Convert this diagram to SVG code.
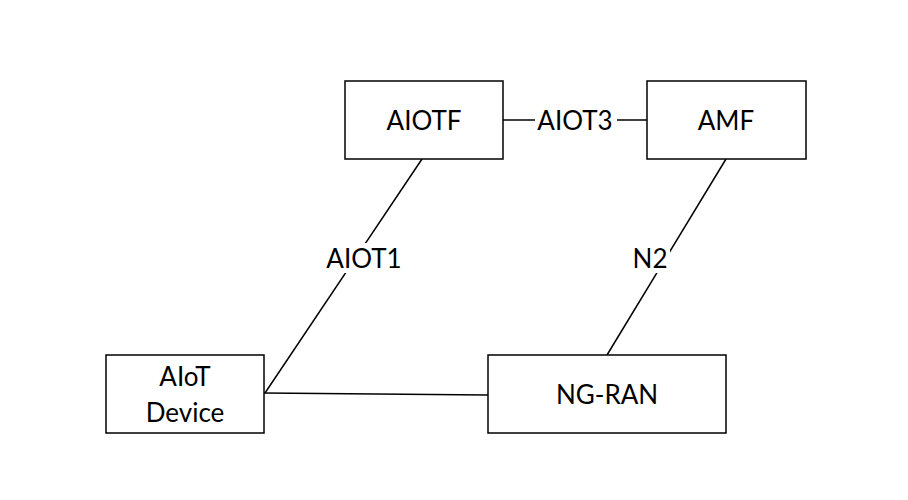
<svg xmlns="http://www.w3.org/2000/svg" width="908" height="500" viewBox="0 0 908 500">
<style>
.box{fill:#fff;stroke:#000;stroke-width:1.5}
.ln{stroke:#000;stroke-width:1.5;fill:none}
text{font-family:Lato,"Liberation Sans",sans-serif;font-size:26px;fill:#000;text-anchor:middle;dominant-baseline:central}
.lbl{fill:#fff;stroke:none}
</style>
<rect width="908" height="500" fill="#fff"/>
<g id="connectors">
<line class="ln" x1="503" y1="120" x2="647" y2="120"/>
<rect class="lbl" x="535" y="105" width="82" height="30"/>
<text x="575" y="120">AIOT3</text>
<line class="ln" x1="422" y1="159" x2="265" y2="393"/>
<rect class="lbl" x="322" y="243" width="84" height="30"/>
<text x="364" y="258">AIOT1</text>
<line class="ln" x1="726" y1="159" x2="607" y2="355"/>
<rect class="lbl" x="630" y="243" width="40" height="30"/>
<text x="650" y="258">N2</text>
<line class="ln" x1="264" y1="393" x2="488" y2="395"/>
</g>
<g id="aiotf"><rect class="box" x="345" y="81" width="158" height="78"/><text x="424" y="120">AIOTF</text></g>
<g id="amf"><rect class="box" x="647" y="81" width="159" height="78"/><text x="726" y="120">AMF</text></g>
<g id="device"><rect class="box" x="106" y="355" width="158" height="78"/><text x="185" y="376">AIoT</text><text x="185" y="412">Device</text></g>
<g id="ngran"><rect class="box" x="488" y="355" width="238" height="78"/><text x="607" y="394">NG-RAN</text></g>
</svg>
